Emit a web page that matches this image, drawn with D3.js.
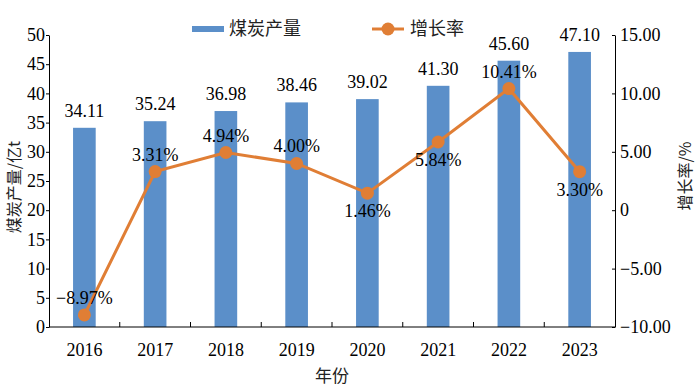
<!DOCTYPE html>
<html><head><meta charset="utf-8">
<script src="https://cdn.jsdelivr.net/npm/d3@7"></script>
<style>body{margin:0;background:#fff}svg{display:block}
.num{font-family:"Liberation Serif","Times New Roman","DejaVu Serif",serif;}
.cjk{font-family:"Noto Sans CJK SC","Noto Sans",sans-serif;}
</style>
</head><body>
<svg id="c" width="700" height="392"></svg>
<script>
const years = ["2016","2017","2018","2019","2020","2021","2022","2023"];
const output = [34.11,35.24,36.98,38.46,39.02,41.30,45.60,47.10];
const growth = [-8.97,3.31,4.94,4.00,1.46,5.84,10.41,3.30];
const growthLabelPos = ["above","above","above","above","below","below","above","below"];
const leftTicks = [0,5,10,15,20,25,30,35,40,45,50];
const rightTicks = [-10,-5,0,5,10,15];
const seriesNames = ["煤炭产量","增长率"];

const W=700,H=392, m={l:49,r:85,t:35,b:65};
const barColor="#5B8FC9", lineColor="#E07E35";
const svg=d3.select("#c");
const x=d3.scaleBand().domain(years).range([m.l,W-m.r]).paddingInner(0.68).paddingOuter(0.34);
const yL=d3.scaleLinear().domain([0,50]).range([H-m.b,m.t]);
const yR=d3.scaleLinear().domain([-10,15]).range([H-m.b,m.t]);
const fmtR=v=>v===0?"0":(v<0?"−":"")+Math.abs(v).toFixed(2);

// bars
svg.append("g").selectAll("rect").data(output).join("rect")
 .attr("x",(d,i)=>x(years[i])).attr("width",x.bandwidth())
 .attr("y",d=>yL(d)).attr("height",d=>yL(0)-yL(d)).attr("fill",barColor);
svg.append("g").selectAll("text").data(output).join("text").attr("class","num")
 .attr("x",(d,i)=>x(years[i])+x.bandwidth()/2).attr("y",d=>yL(d)-11)
 .attr("text-anchor","middle").attr("font-size",18)
 .text(d=>d.toFixed(2));

// axes
const gx=svg.append("g").attr("transform",`translate(0,${H-m.b})`);
gx.append("line").attr("x1",m.l).attr("x2",W-m.r).attr("stroke","#000");
const gap=(x.step()-x.bandwidth())/2;
gx.selectAll(".tk").data(years.slice(1)).join("line")
 .attr("x1",d=>x(d)-gap).attr("x2",d=>x(d)-gap)
 .attr("y1",0).attr("y2",-5).attr("stroke","#000");
gx.selectAll(".lb").data(years).join("text").attr("class","num")
 .attr("x",d=>x(d)+x.bandwidth()/2).attr("y",29).attr("text-anchor","middle")
 .attr("font-size",18).text(d=>d);
svg.append("text").attr("class","cjk").attr("x",(m.l+W-m.r)/2).attr("y",382).attr("text-anchor","middle")
 .attr("font-size",17).attr("fill","#222").text("年份");

const gl=svg.append("g").attr("transform",`translate(${m.l},0)`)
 .call(d3.axisLeft(yL).tickValues(leftTicks).tickSize(3).tickSizeOuter(0).tickFormat(d3.format("d")));
gl.select(".domain").attr("stroke","#000");
gl.selectAll("text").attr("class","num").attr("font-size",18).attr("fill","#000").attr("x",-4);
const gr=svg.append("g").attr("transform",`translate(${W-m.r},0)`)
 .call(d3.axisRight(yR).tickValues(rightTicks).tickSize(0).tickSizeOuter(0).tickFormat(fmtR));
gr.selectAll(".tick line").attr("x2",-3).attr("stroke","#000");
gr.select(".domain").attr("stroke","#000");
gr.selectAll("text").attr("class","num").attr("font-size",18).attr("fill","#000").attr("x",5);

svg.append("text").attr("class","cjk").attr("transform",`translate(20,187) rotate(-90)`).attr("text-anchor","middle")
 .attr("font-size",16).attr("fill","#222").text("煤炭产量/亿t");
svg.append("text").attr("class","cjk").attr("transform",`translate(691,176) rotate(-90)`).attr("text-anchor","middle")
 .attr("font-size",16).attr("fill","#222").text("增长率/%");

// line
const cx=(d,i)=>x(years[i])+x.bandwidth()/2;
svg.append("path").datum(growth).attr("fill","none").attr("stroke",lineColor).attr("stroke-width",3)
 .attr("d",d3.line().x(cx).y(d=>yR(d)));
svg.append("g").selectAll("circle").data(growth).join("circle")
 .attr("cx",cx).attr("cy",d=>yR(d)).attr("r",6.5).attr("fill",lineColor);
svg.append("g").selectAll("text").data(growth).join("text").attr("class","num")
 .attr("x",cx).attr("y",(d,i)=>yR(d)+(growthLabelPos[i]==="above"?-11:24))
 .attr("text-anchor","middle").attr("font-size",18)
 .text(d=>(d<0?"−":"")+Math.abs(d).toFixed(2)+"%");

// legend
const lg=svg.append("g");
lg.append("rect").attr("x",192).attr("y",26).attr("width",32).attr("height",6).attr("fill",barColor);
lg.append("text").attr("class","cjk").attr("x",229).attr("y",35).attr("font-size",18).attr("fill","#222").text(seriesNames[0]);
lg.append("line").attr("x1",372).attr("x2",404).attr("y1",29).attr("y2",29).attr("stroke",lineColor).attr("stroke-width",3);
lg.append("circle").attr("cx",388).attr("cy",29).attr("r",6.5).attr("fill",lineColor);
lg.append("text").attr("class","cjk").attr("x",410).attr("y",35).attr("font-size",18).attr("fill","#222").text(seriesNames[1]);
</script>
</body></html>
